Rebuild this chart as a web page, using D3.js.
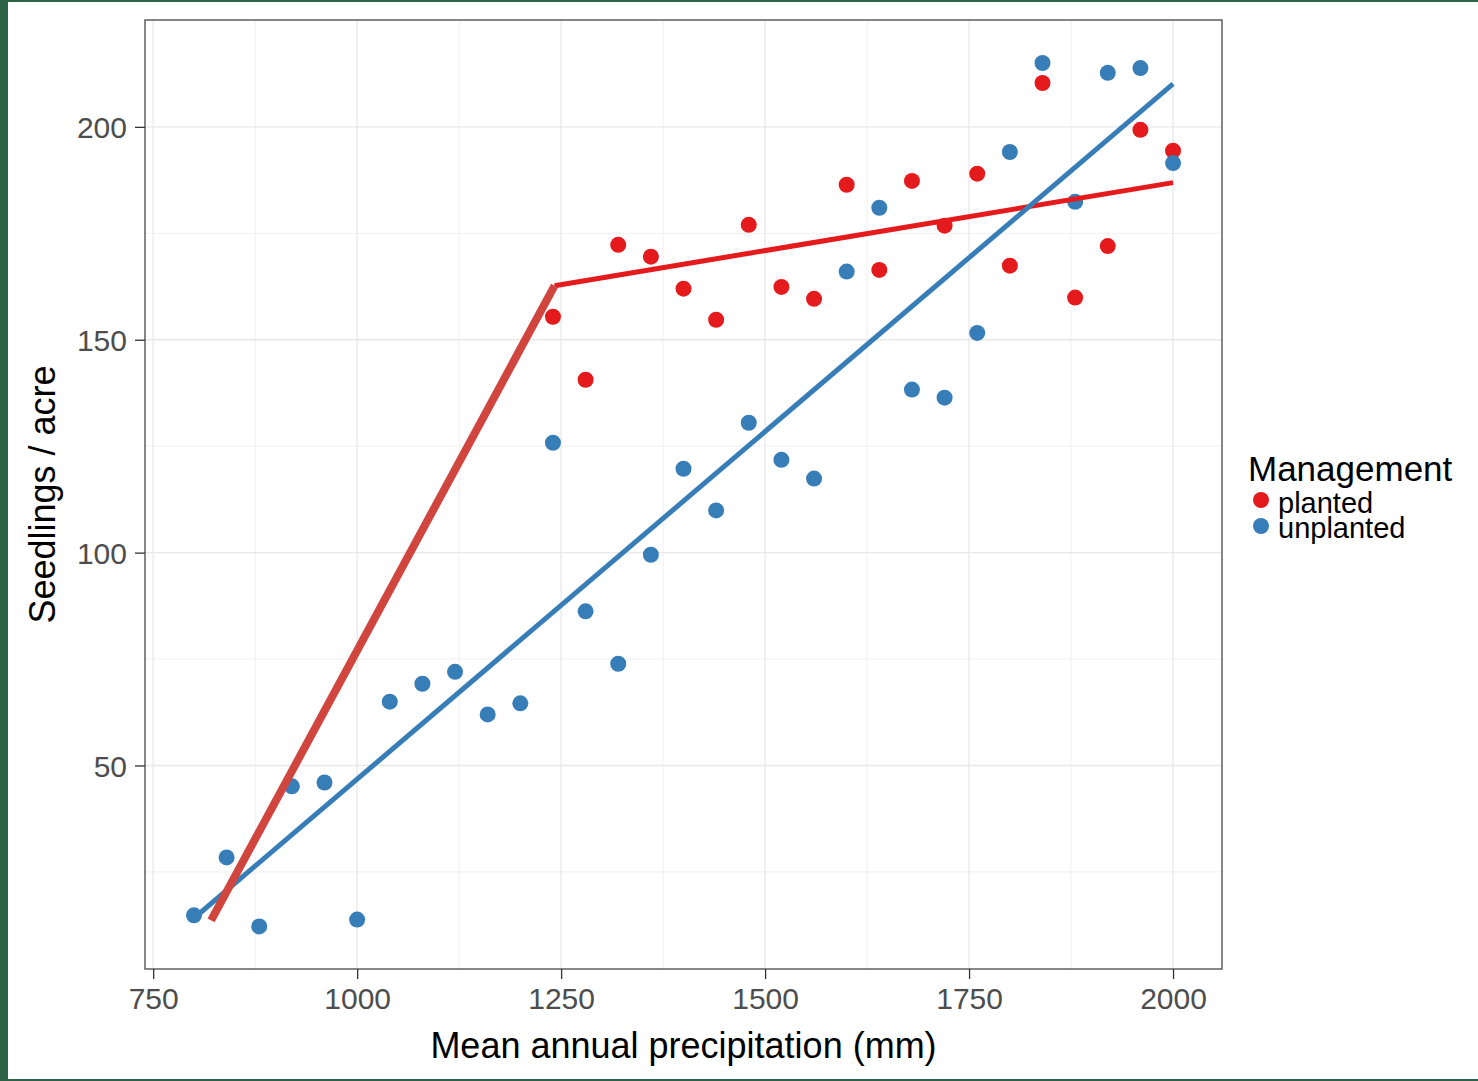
<!DOCTYPE html>
<html>
<head>
<meta charset="utf-8">
<script src="https://cdn.jsdelivr.net/npm/d3@7"></script>
<style>
  body { margin: 0; background: #2d6346; }
  #graph { position: absolute; left: 8px; top: 2px; width: 1470px; height: 1077px; background: #fff; }
  text { font-family: "Liberation Sans", Arial, sans-serif; }
</style>
</head>
<body>
<div id="graph"></div>
<script>
// precipitation (mm) for every site
var precip = [800, 840, 880, 920, 960, 1000, 1040, 1080, 1120, 1160, 1200, 1240, 1280, 1320, 1360, 1400,
  1440, 1480, 1520, 1560, 1600, 1640, 1680, 1720, 1760, 1800, 1840, 1880, 1920, 1960, 2000];
var unplanted = [14.8, 28.4, 12.2, 45.1, 46, 13.8, 65, 69.2, 72, 62, 64.6, 125.8, 86.2, 73.9, 99.5, 119.7,
  109.9, 130.5, 121.8, 117.4, 166, 181, 138.3, 136.4, 151.6, 194.1, 215, 182.4, 212.7, 213.8, 191.5];
// planted sites only start at 1240 mm
var plantedPrecip = precip.slice(11);
var planted = [155.4, 140.6, 172.3, 169.5, 162, 154.7, 177, 162.4, 159.6, 186.4, 166.4, 187.3,
  176.8, 189, 167.4, 210.3, 159.9, 172, 199.3, 194.4];

// fitted lines
var unplantedFit = [[801, 14.3], [2000, 210.1]];
var plantedFit = [[1242, 162.7], [2000, 186.9]];
var plantedSteep = [[821, 13.6], [1242, 162.7]];

var xTicks = [750, 1000, 1250, 1500, 1750, 2000];
var xMinor = [875, 1125, 1375, 1625, 1875];
var yTicks = [50, 100, 150, 200];
var yMinor = [25, 75, 125, 175, 225];

var groups = ["planted", "unplanted"];
var colors = {planted: "#e41a1c", unplanted: "#377eb8"};

var svgWidth = 1470, svgHeight = 1077;
var margin = {left: 137, top: 18, right: 255, bottom: 110};
var width = 1077, height = 949;

var svg = d3.select("#graph").append("svg")
  .attr("width", svgWidth).attr("height", svgHeight)
  .append("g")
  .attr("transform", "translate(" + margin.left + "," + margin.top + ")");

var xScale = d3.scaleLinear().domain([740, 2060]).range([0, width]);
var yScale = d3.scaleLinear().domain([2.2, 225.1]).range([height, 0]);

// grid
svg.selectAll(".xminor").data(xMinor).enter().append("line")
  .attr("x1", d => xScale(d)).attr("x2", d => xScale(d)).attr("y1", 0).attr("y2", height)
  .style("stroke", "#f0f0f0").style("stroke-width", 1);
svg.selectAll(".yminor").data(yMinor).enter().append("line")
  .attr("y1", d => yScale(d)).attr("y2", d => yScale(d)).attr("x1", 0).attr("x2", width)
  .style("stroke", "#f0f0f0").style("stroke-width", 1);
svg.selectAll(".xmajor").data(xTicks).enter().append("line")
  .attr("x1", d => xScale(d)).attr("x2", d => xScale(d)).attr("y1", 0).attr("y2", height)
  .style("stroke", "#e8e8e8").style("stroke-width", 1.3);
svg.selectAll(".ymajor").data(yTicks).enter().append("line")
  .attr("y1", d => yScale(d)).attr("y2", d => yScale(d)).attr("x1", 0).attr("x2", width)
  .style("stroke", "#e8e8e8").style("stroke-width", 1.3);

// points
svg.selectAll(".pl").data(planted).enter().append("circle")
  .attr("cx", (d, i) => xScale(plantedPrecip[i])).attr("cy", d => yScale(d))
  .attr("r", 8).style("fill", colors.planted);
svg.selectAll(".un").data(unplanted).enter().append("circle")
  .attr("cx", (d, i) => xScale(precip[i])).attr("cy", d => yScale(d))
  .attr("r", 8).style("fill", colors.unplanted);

// lines
var lineGen = d3.line().x(d => xScale(d[0])).y(d => yScale(d[1]));
svg.append("path").attr("d", lineGen(plantedFit))
  .style("fill", "none").style("stroke", colors.planted).style("stroke-width", 5);
svg.append("path").attr("d", lineGen(unplantedFit))
  .style("fill", "none").style("stroke", colors.unplanted).style("stroke-width", 5);
svg.append("path").attr("d", lineGen(plantedSteep))
  .style("fill", "none").style("stroke", "#d1453f").style("stroke-width", 8);

// panel border
svg.append("rect").attr("width", width).attr("height", height)
  .style("fill", "none").style("stroke", "#555").style("stroke-width", 1.4);

// axes
var xAxis = svg.append("g").attr("transform", "translate(0," + height + ")")
  .call(d3.axisBottom(xScale).tickValues(xTicks).tickSize(10).tickPadding(9).tickFormat(d3.format("d")));
var yAxis = svg.append("g")
  .call(d3.axisLeft(yScale).tickValues(yTicks).tickSize(10).tickPadding(8).tickFormat(d3.format("d")));
[xAxis, yAxis].forEach(function(a) {
  a.select(".domain").remove();
  a.selectAll(".tick line").style("stroke", "#333").style("stroke-width", 1.3);
  a.selectAll(".tick text").style("fill", "#4d4d4d").style("font-size", "30px")
    .style("font-family", "'Liberation Sans', Arial, sans-serif");
});
yAxis.selectAll(".tick text").attr("dy", "0.36em");

// axis titles
svg.append("text").attr("x", width / 2).attr("y", height + 89)
  .attr("text-anchor", "middle").style("font-size", "36px").style("fill", "black")
  .text("Mean annual precipitation (mm)");
svg.append("text").attr("transform", "rotate(-90)")
  .attr("x", -height / 2).attr("y", -90)
  .attr("text-anchor", "middle").style("font-size", "36px").style("fill", "black")
  .text("Seedlings / acre");

// legend
var legend = svg.append("g").attr("transform", "translate(" + (width + 26) + ",0)");
legend.append("text").attr("x", 0).attr("y", 461).style("font-size", "35px").style("fill", "black")
  .text("Management");
groups.forEach(function(g, i) {
  legend.append("circle").attr("cx", 13).attr("cy", 480 + i * 26).attr("r", 8).style("fill", colors[g]);
  legend.append("text").attr("x", 30).attr("y", 493 + i * 25).style("font-size", "29px").style("fill", "black")
    .text(g);
});
</script>
</body>
</html>
